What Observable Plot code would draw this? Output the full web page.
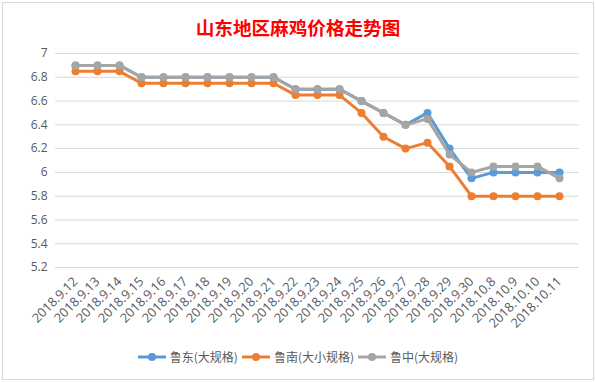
<!DOCTYPE html>
<html><head><meta charset="utf-8">
<script src="https://cdn.jsdelivr.net/npm/d3@7"></script>
<script src="https://cdn.jsdelivr.net/npm/@observablehq/plot@0.6"></script>
<style>
body{margin:0;background:#fff;font-family:"Noto Sans CJK SC","Microsoft YaHei",sans-serif;}
#wrap{position:relative;width:596px;height:382px;overflow:hidden;background:#fff;}
#frame{position:absolute;left:2px;top:2px;width:590px;height:376px;border:1px solid #d9d9d9;}
#title{position:absolute;left:0;width:596px;top:17px;text-align:center;color:#ff0000;font-size:18.6px;line-height:19px;font-weight:bold;}
#chart{position:absolute;left:0;top:0;}
#legend{position:absolute;left:0;width:596px;top:349px;display:flex;justify-content:center;align-items:center;font-size:12px;color:#595959;line-height:16px;}
#legend .item{display:flex;align-items:center;margin:0 2px;}
#legend svg{margin-right:4px;}
</style></head>
<body><div id="wrap"><div id="frame"></div><div id="title">山东地区麻鸡价格走势图</div><div id="chart"></div><div id="legend"></div></div>
<script>
const dates = ["2018.9.12","2018.9.13","2018.9.14","2018.9.15","2018.9.16","2018.9.17","2018.9.18","2018.9.19","2018.9.20","2018.9.21","2018.9.22","2018.9.23","2018.9.24","2018.9.25","2018.9.26","2018.9.27","2018.9.28","2018.9.29","2018.9.30","2018.10.8","2018.10.9","2018.10.10","2018.10.11"];
const seriesNames = ["鲁东(大规格)","鲁南(大小规格)","鲁中(大规格)"];
const east   = [6.9,6.9,6.9,6.8,6.8,6.8,6.8,6.8,6.8,6.8,6.7,6.7,6.7,6.6,6.5,6.4,6.5,6.2,5.95,6.0,6.0,6.0,6.0];
const south  = [6.85,6.85,6.85,6.75,6.75,6.75,6.75,6.75,6.75,6.75,6.65,6.65,6.65,6.5,6.3,6.2,6.25,6.05,5.8,5.8,5.8,5.8,5.8];
const middle = [6.9,6.9,6.9,6.8,6.8,6.8,6.8,6.8,6.8,6.8,6.7,6.7,6.7,6.6,6.5,6.4,6.45,6.15,6.0,6.05,6.05,6.05,5.95];
const yTicks = [5.2,5.4,5.6,5.8,6,6.2,6.4,6.6,6.8,7];
const colors = ["#5B9BD5","#ED7D31","#A5A5A5"];

const allSeries = [east, south, middle];
const data = allSeries.map((vals, s) => dates.map((d, i) => ({date: d, value: vals[i], series: seriesNames[s]})));

const marks = [
  Plot.gridY(yTicks, {stroke: "#d9d9d9", strokeOpacity: 1, strokeWidth: 1}),
  Plot.axisY(yTicks, {tickSize: 0, tickPadding: 8, fontSize: 12, fill: "#595959", tickFormat: d => String(d), label: null, fontFamily: '"Open Sans", sans-serif'}),
  Plot.axisX({tickSize: 0, tickRotate: -45, tickPadding: 12, fontSize: 12.8, fill: "#595959", label: null, fontFamily: '"Open Sans", sans-serif'})
];
data.forEach((rows, s) => {
  marks.push(Plot.line(rows, {x: "date", y: "value", stroke: colors[s], strokeWidth: 3, curve: "linear"}));
  marks.push(Plot.dot(rows, {x: "date", y: "value", fill: colors[s], r: 4, stroke: "none"}));
});

const chart = Plot.plot({
  width: 596, height: 340,
  marginTop: 53, marginBottom: 73, marginLeft: 55, marginRight: 17,
  style: {fontFamily: '"Noto Sans CJK SC", sans-serif', background: "transparent", color: "#595959"},
  x: {type: "point", domain: dates, padding: 0.5},
  y: {domain: [5.2, 7]},
  marks
});
document.getElementById("chart").appendChild(chart);

const legend = document.getElementById("legend");
seriesNames.forEach((name, s) => {
  const item = document.createElement("div");
  item.className = "item";
  item.innerHTML = `<svg width="28" height="10"><line x1="0" x2="28" y1="5" y2="5" stroke="${colors[s]}" stroke-width="3"/><circle cx="14" cy="5" r="4" fill="${colors[s]}"/></svg><span>${name}</span>`;
  legend.appendChild(item);
});
</script></body></html>
